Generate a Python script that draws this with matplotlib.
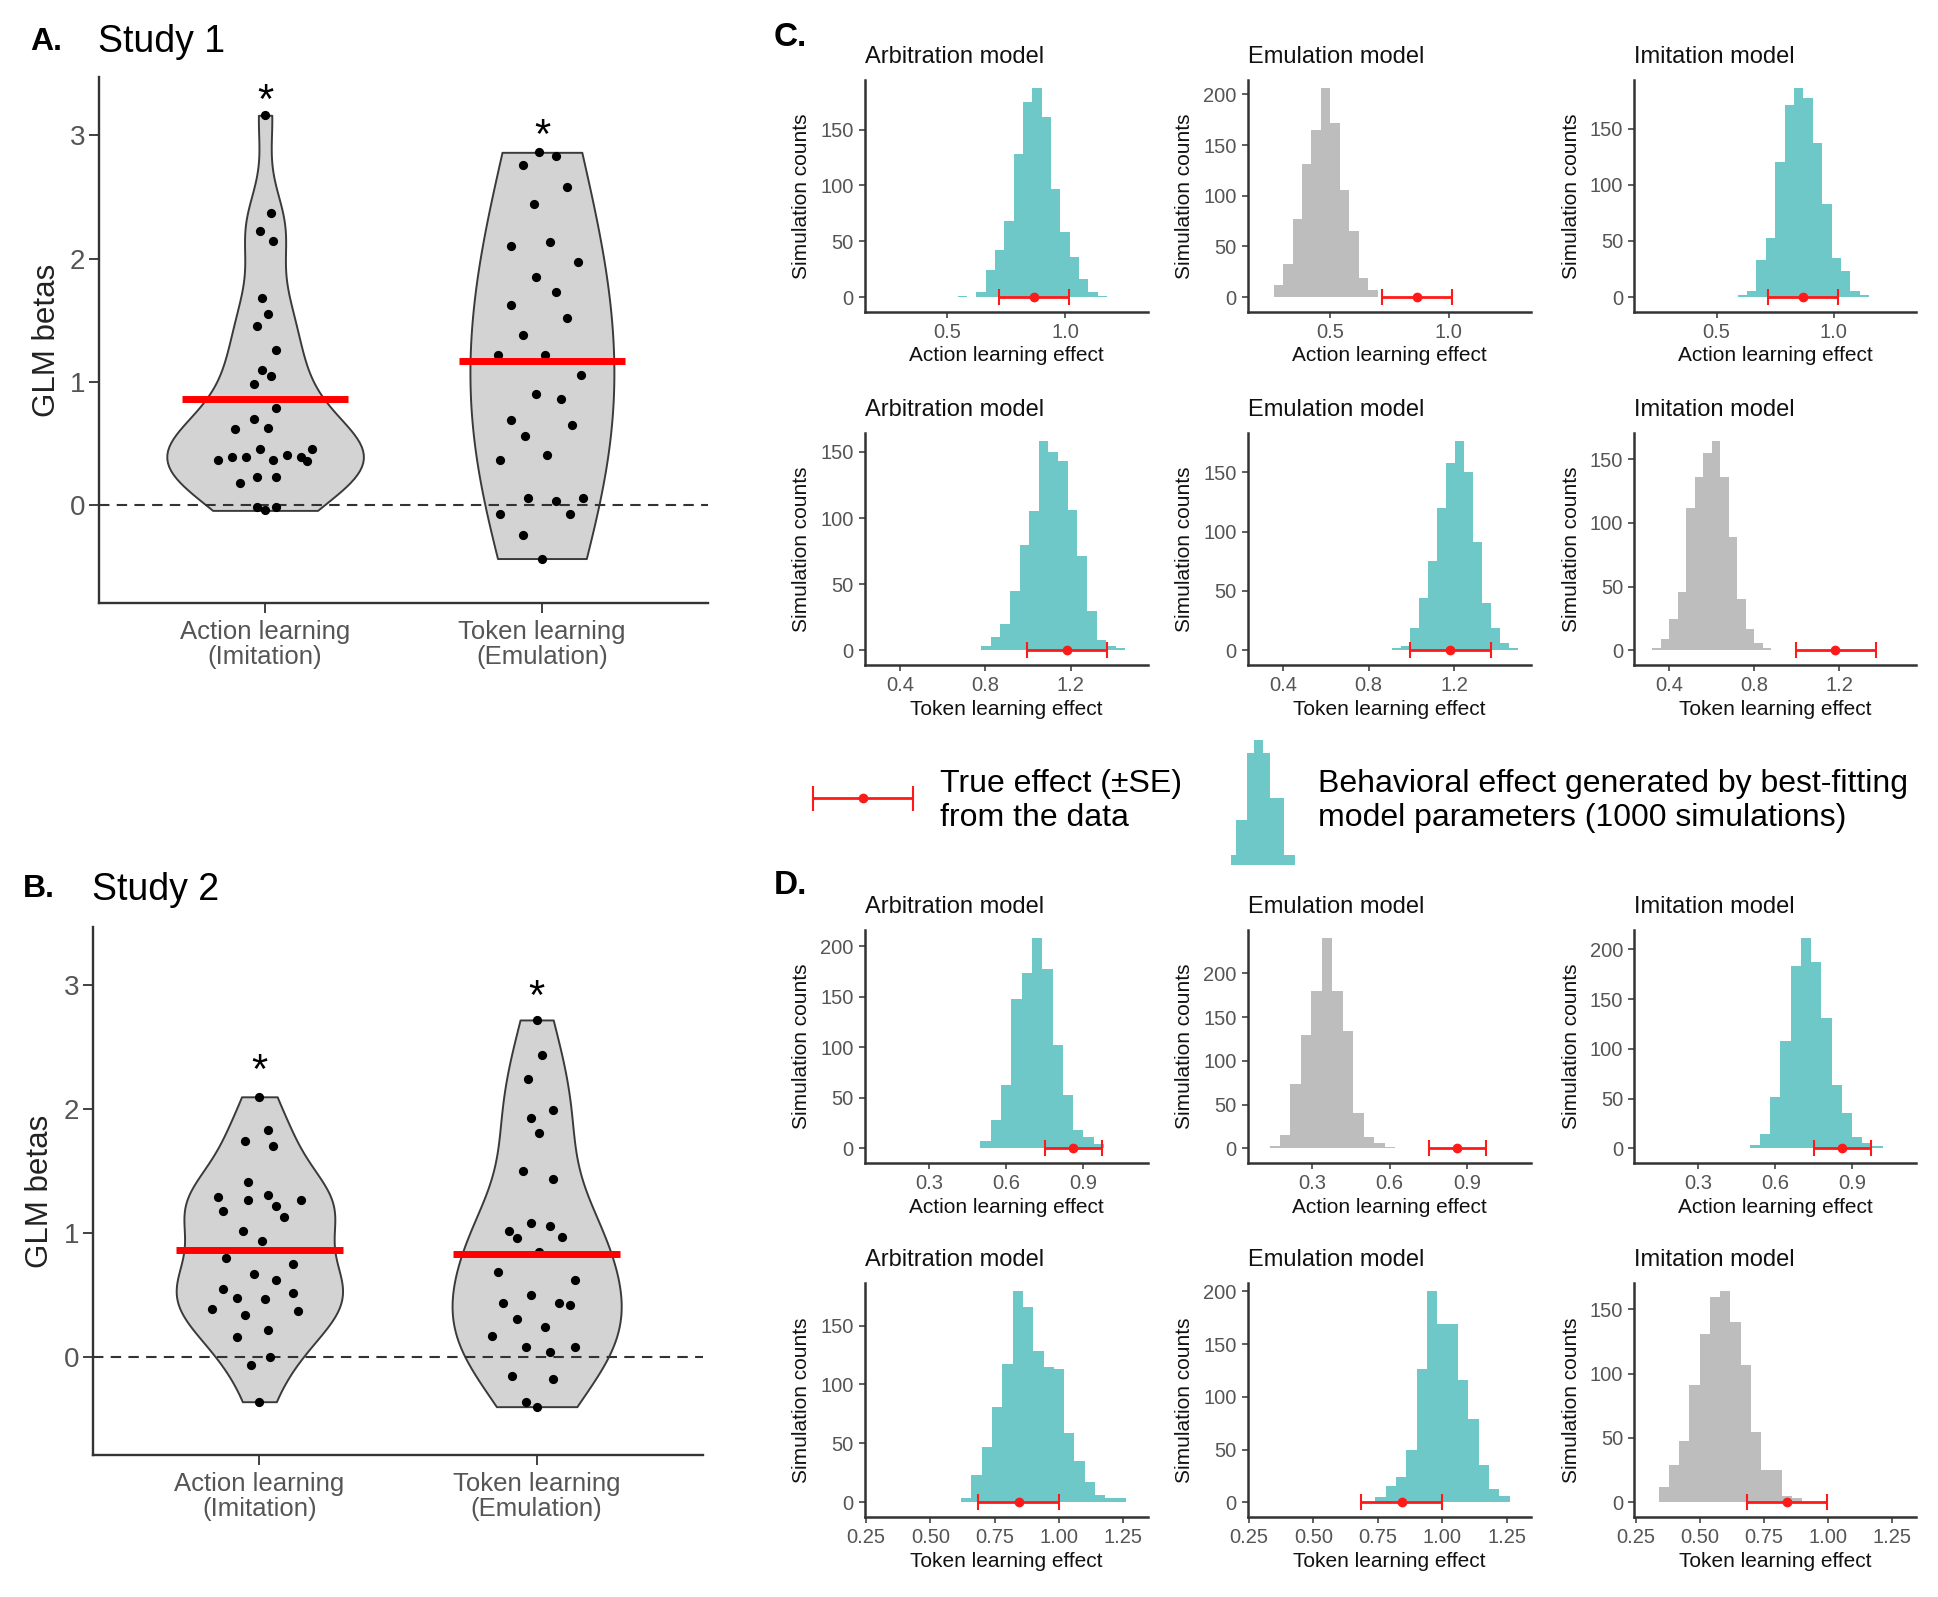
import numpy as np
import matplotlib
matplotlib.use("Agg")
import matplotlib.pyplot as plt
from matplotlib.ticker import FixedLocator, MultipleLocator, FormatStrFormatter

plt.rcParams['font.family'] = ['Liberation Sans', 'DejaVu Sans']

# ---------------- data: panels A and B (GLM betas) ----------------
categories = ["Action learning\n(Imitation)", "Token learning\n(Emulation)"]

s1_action = [3.16, 2.37, 2.22, 2.14, 1.68, 1.55, 1.45, 1.26, 1.10, 1.05, 0.98, 0.79, 0.70, 0.62, 0.63,
             0.46, 0.46, 0.37, 0.39, 0.39, 0.37, 0.41, 0.39, 0.36, 0.23, 0.23, 0.18, -0.01, -0.04, -0.01]
s1_action_jitter = [0.00, 0.02, -0.02, 0.03, -0.01, 0.01, -0.03, 0.04, -0.01, 0.02, -0.04, 0.04, -0.04, -0.11, 0.01,
                    -0.02, 0.17, -0.17, -0.12, -0.07, 0.03, 0.08, 0.13, 0.15, -0.03, 0.04, -0.09, -0.03, 0.00, 0.04]
s1_token = [2.86, 2.83, 2.76, 2.58, 2.44, 2.10, 2.13, 1.97, 1.85, 1.73, 1.62, 1.52, 1.38, 1.22, 1.22,
            1.06, 0.90, 0.86, 0.69, 0.65, 0.56, 0.37, 0.41, 0.06, 0.04, 0.06, -0.07, -0.07, -0.24, -0.43]
s1_token_jitter = [-0.01, 0.05, -0.07, 0.09, -0.03, -0.11, 0.03, 0.13, -0.02, 0.05, -0.11, 0.09, -0.07, -0.16, 0.01,
                   0.14, -0.02, 0.07, -0.11, 0.11, -0.06, -0.15, 0.02, -0.05, 0.05, 0.15, -0.15, 0.10, -0.07, 0.00]
s1_means = [0.86, 1.17]
s1_star_y = [3.37, 3.09]

s2_action = [2.10, 1.83, 1.74, 1.70, 1.41, 1.29, 1.27, 1.31, 1.27, 1.18, 1.22, 1.13, 1.02, 0.94, 0.80,
             0.75, 0.67, 0.62, 0.55, 0.52, 0.48, 0.47, 0.39, 0.37, 0.34, 0.22, 0.16, 0.00, -0.06, -0.36]
s2_action_jitter = [0.00, 0.03, -0.05, 0.05, -0.04, -0.15, -0.04, 0.03, 0.15, -0.13, 0.06, 0.09, -0.06, 0.01, -0.12,
                    0.12, -0.02, 0.06, -0.13, 0.12, -0.08, 0.02, -0.17, 0.14, -0.05, 0.03, -0.08, 0.04, -0.03, 0.00]
s2_token = [2.72, 2.44, 2.24, 1.99, 1.93, 1.81, 1.50, 1.44, 1.02, 1.08, 1.06, 0.96, 0.97, 0.85, 0.69,
            0.62, 0.50, 0.44, 0.44, 0.42, 0.31, 0.24, 0.17, 0.08, 0.04, 0.08, -0.15, -0.18, -0.36, -0.40]
s2_token_jitter = [0.00, 0.02, -0.03, 0.06, -0.02, 0.01, -0.05, 0.06, -0.10, -0.02, 0.05, -0.07, 0.09, 0.01, -0.14,
                   0.14, -0.02, -0.12, 0.08, 0.12, -0.07, 0.03, -0.16, -0.04, 0.05, 0.14, -0.09, 0.06, -0.04, 0.00]
s2_means = [0.86, 0.83]
s2_star_y = [2.40, 3.00]

# ---------------- data: panels C and D (simulation histograms) ----------------
model_titles = ["Arbitration model", "Emulation model", "Imitation model"]

# each histogram: first bin edge, bin width, counts
c_action_arb = (0.545, 0.0395, [1, 0, 5, 24, 42, 68, 128, 175, 187, 161, 97, 58, 36, 16, 5, 1])
c_action_emu = (0.26, 0.04, [12, 33, 77, 131, 165, 206, 172, 106, 65, 19, 7])
c_action_imi = (0.59, 0.04, [2, 5, 33, 53, 120, 171, 186, 177, 137, 83, 35, 23, 5, 2])
c_token_arb = (0.78, 0.045, [3, 10, 20, 45, 80, 105, 158, 150, 143, 106, 71, 30, 8, 3, 2])
c_token_emu = (0.91, 0.042, [2, 4, 19, 44, 75, 120, 158, 176, 150, 91, 40, 19, 6, 2])
c_token_imi = (0.32, 0.04, [2, 9, 25, 46, 112, 136, 155, 164, 136, 89, 40, 17, 6, 2])
d_action_arb = (0.50, 0.04, [7, 28, 63, 148, 174, 208, 178, 102, 53, 18, 11, 4])
d_action_emu = (0.135, 0.0405, [3, 15, 74, 130, 180, 240, 180, 134, 40, 13, 6, 2])
d_action_imi = (0.50, 0.04, [3, 14, 52, 108, 183, 211, 187, 131, 64, 35, 11, 5, 2])
d_token_arb = (0.62, 0.04, [4, 23, 47, 81, 117, 179, 166, 128, 115, 113, 59, 35, 17, 6, 4, 4])
d_token_emu = (0.74, 0.04, [5, 15, 24, 50, 126, 200, 169, 169, 116, 79, 35, 13, 6])
d_token_imi = (0.34, 0.04, [12, 29, 48, 91, 131, 160, 164, 140, 107, 55, 25, 25, 5, 3])

# true effects (mean, lower, upper = mean -/+ SE)
s1_true_action = (0.868, 0.720, 1.016)
s1_true_token = (1.180, 0.995, 1.370)
s2_true_action = (0.860, 0.752, 0.973)
s2_true_token = (0.843, 0.686, 0.999)

legend_icon_edges = [0.0, 0.08, 0.25, 0.365, 0.50, 0.615, 0.82, 1.0]
legend_icon_counts = [30, 135, 335, 375, 335, 200, 30]

TEAL = '#6fc8c8'
GREY = '#bdbdbd'
DARK = '#333333'
TICKC = '#555555'

W, H = 1938, 1597
fig = plt.figure(figsize=(W / 100, H / 100), dpi=100)
fig.patch.set_facecolor('white')


def add_ax(l, t, r, b):
    return fig.add_axes([l / W, 1 - b / H, (r - l) / W, (b - t) / H])


def nrd0(adjust=1.0):
    def f(kde):
        d = np.asarray(kde.dataset).ravel()
        sd = d.std(ddof=1)
        q75, q25 = np.percentile(d, [75, 25])
        lo = min(sd, (q75 - q25) / 1.34)
        return adjust * 0.9 * lo * d.size ** (-0.2) / sd
    return f


def style_axes(ax, lw):
    for s in ['top', 'right']:
        ax.spines[s].set_visible(False)
    for s in ['left', 'bottom']:
        ax.spines[s].set_color(DARK)
        ax.spines[s].set_linewidth(lw)


def violin_panel(ax, vals, jits, means, stars, widths, adjusts):
    for i in range(2):
        pos = i + 1
        parts = ax.violinplot([vals[i]], positions=[pos], widths=widths[i],
                              showextrema=False, bw_method=nrd0(adjusts[i]))
        for b in parts['bodies']:
            b.set_facecolor('#d3d3d3')
            b.set_edgecolor('#3a3a3a')
            b.set_alpha(1)
            b.set_linewidth(1.4)
            b.set_zorder(1)
        ax.scatter(pos + np.asarray(jits[i]), vals[i], s=44, color='black', zorder=4, linewidths=0)
        ax.hlines(means[i], pos - 0.3, pos + 0.3, color='red', lw=5, zorder=5)
        ax.annotate('*', (pos, stars[i]), xytext=(0, -17), textcoords='offset points',
                    ha='center', va='baseline', fontsize=30, color='black')
    ax.axhline(0, color=DARK, lw=1.5, ls=(0, (5, 3.5)), zorder=3)
    ax.set_xlim(0.4, 2.6)
    ax.set_ylim(-0.79, 3.47)
    ax.set_xticks([1, 2])
    ax.set_xticklabels(categories, fontsize=18.5, color=TICKC, linespacing=1.05)
    ax.set_yticks([0, 1, 2, 3])
    ax.tick_params(axis='y', labelsize=20, labelcolor=TICKC, length=7, width=1.3, color=DARK, pad=3)
    ax.tick_params(axis='x', length=7, width=1.3, color=DARK, pad=5)
    ax.set_ylabel('GLM betas', fontsize=22.5, color='#222222')
    style_axes(ax, 1.7)


# ---------- Panel A ----------
axA = add_ax(99, 77, 708, 603)
violin_panel(axA, [s1_action, s1_token], [s1_action_jitter, s1_token_jitter], s1_means, s1_star_y,
             [0.71, 0.52], [1.0, 2.4])
axA.yaxis.set_label_coords(-0.06, 0.5)
fig.text(30 / W, 1 - 42 / H, 'A.', fontsize=23, fontweight='bold', ha='left', va='center')
fig.text(98 / W, 1 - 42 / H, 'Study 1', fontsize=27, ha='left', va='center')

# ---------- Panel B ----------
axB = add_ax(93, 927, 703, 1455)
violin_panel(axB, [s2_action, s2_token], [s2_action_jitter, s2_token_jitter], s2_means, s2_star_y,
             [0.60, 0.61], [1.0, 1.0])
axB.yaxis.set_label_coords(-0.063, 0.5)
fig.text(23 / W, 1 - 889 / H, 'B.', fontsize=23, fontweight='bold', ha='left', va='center')
fig.text(92 / W, 1 - 890 / H, 'Study 2', fontsize=27, ha='left', va='center')

# ---------- Panels C and D ----------
cols_x = [(864.6, 1147.8), (1247.6, 1531.5), (1634.4, 1916.0)]
rows_y = [(80, 311.7), (433, 665), (930, 1163), (1283, 1517)]

rows = [
    dict(hists=[c_action_arb, c_action_emu, c_action_imi], colors=[TEAL, GREY, TEAL],
         true=s1_true_action, xlim=(0.15, 1.35), xticks=[0.5, 1.0], fmt='%.1f',
         xlabel='Action learning effect'),
    dict(hists=[c_token_arb, c_token_emu, c_token_imi], colors=[TEAL, TEAL, GREY],
         true=s1_true_token, xlim=(0.235, 1.56), xticks=[0.4, 0.8, 1.2], fmt='%.1f',
         xlabel='Token learning effect'),
    dict(hists=[d_action_arb, d_action_emu, d_action_imi], colors=[TEAL, GREY, TEAL],
         true=s2_true_action, xlim=(0.05, 1.15), xticks=[0.3, 0.6, 0.9], fmt='%.1f',
         xlabel='Action learning effect'),
    dict(hists=[d_token_arb, d_token_emu, d_token_imi], colors=[TEAL, TEAL, GREY],
         true=s2_true_token, xlim=(0.245, 1.345), xticks=[0.25, 0.5, 0.75, 1.0, 1.25], fmt='%.2f',
         xlabel='Token learning effect'),
]

for r, row in enumerate(rows):
    t, b = rows_y[r]
    for c in range(3):
        l, rr = cols_x[c]
        ax = add_ax(l, t, rr, b)
        start, width, counts = row['hists'][c]
        counts = np.asarray(counts, dtype=float)
        edges = start + width * np.arange(len(counts) + 1)
        ax.stairs(counts, edges, fill=True, color=row['colors'][c], baseline=0, zorder=1)
        m, lo, hi = row['true']
        ax.errorbar([m], [0], xerr=[[m - lo], [hi - m]], fmt='o', color='#ff1a1a', ms=6,
                    elinewidth=2, capsize=6, capthick=1.5, zorder=3)
        ax.set_xlim(*row['xlim'])
        cmax = counts.max()
        ax.set_ylim(-0.07 * cmax, 1.04 * cmax)
        ax.xaxis.set_major_locator(FixedLocator(row['xticks']))
        ax.xaxis.set_major_formatter(FormatStrFormatter(row['fmt']))
        ax.yaxis.set_major_locator(MultipleLocator(50))
        ax.tick_params(labelsize=14.5, labelcolor=TICKC, length=4, width=1.1, color=DARK, pad=4)
        ax.set_title(model_titles[c], loc='left', fontsize=17, pad=12.5, color='#111111')
        ax.set_ylabel('Simulation counts', fontsize=15, color='#111111')
        ax.yaxis.set_label_coords(-0.19, 0.5)
        ax.set_xlabel(row['xlabel'], fontsize=15, color='#111111')
        ax.xaxis.set_label_coords(0.5, -0.15)
        style_axes(ax, 1.8)

fig.text(774 / W, 1 - 38 / H, 'C.', fontsize=24, fontweight='bold', ha='left', va='center')
fig.text(774 / W, 1 - 886 / H, 'D.', fontsize=24, fontweight='bold', ha='left', va='center')

# ---------- legend between C and D ----------
axL = add_ax(800, 780, 925, 815)
axL.errorbar([0.5], [0.5], xerr=[[0.4], [0.4]], fmt='o', color='#ff1a1a', ms=6,
             elinewidth=2, capsize=9, capthick=1.5)
axL.set_xlim(0, 1)
axL.set_ylim(0, 1)
axL.axis('off')
fig.text(940 / W, 1 - 801 / H, 'True effect (\u00b1SE)\nfrom the data', fontsize=23,
         ha='left', va='center', linespacing=1.15)

axI = add_ax(1230.5, 740, 1295.3, 865)
axI.stairs(legend_icon_counts, legend_icon_edges, fill=True, color=TEAL)
axI.set_xlim(0, 1)
axI.set_ylim(0, max(legend_icon_counts))
axI.axis('off')
fig.text(1318 / W, 1 - 801 / H,
         'Behavioral effect generated by best-fitting\nmodel parameters (1000 simulations)',
         fontsize=23, ha='left', va='center', linespacing=1.15)

fig.savefig('out.png', dpi=100, facecolor='white')
